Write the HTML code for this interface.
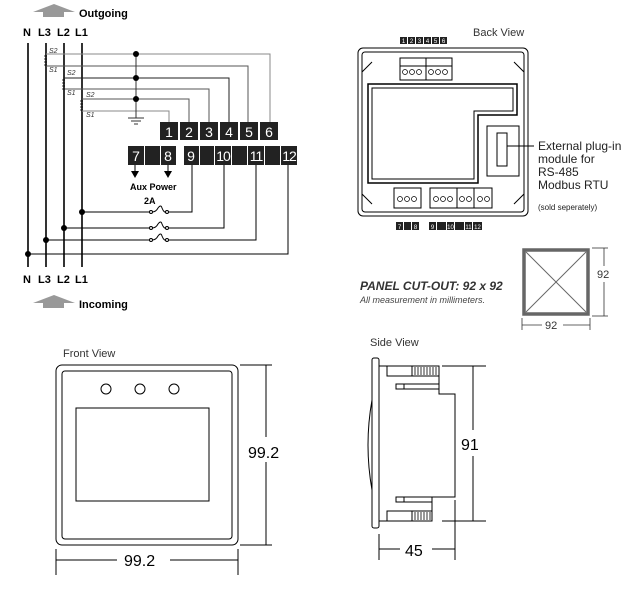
<!DOCTYPE html>
<html><head><style>
html,body{margin:0;padding:0;background:#fff;}
svg{display:block;font-family:"Liberation Sans",sans-serif;}
.b{font-weight:bold;}
</style></head><body>
<svg width="633" height="603" viewBox="0 0 633 603" xmlns="http://www.w3.org/2000/svg">
<!-- Outgoing -->
<polygon points="33,12 54,4 75,12" fill="#999"/><rect x="43" y="12" width="21" height="5" fill="#999"/>
<text x="79" y="17" font-size="11" class="b">Outgoing</text>
<g font-size="11" class="b">
<text x="23" y="36">N</text><text x="38" y="36">L3</text><text x="57" y="36">L2</text><text x="75" y="36">L1</text>
<text x="23" y="283">N</text><text x="38" y="283">L3</text><text x="57" y="283">L2</text><text x="75" y="283">L1</text>
</g>
<polygon points="33,303 54,295 75,303" fill="#999"/><rect x="43" y="303" width="21" height="5" fill="#999"/>
<text x="79" y="308" font-size="11" class="b">Incoming</text>
<!-- verticals -->
<g stroke="#000" stroke-width="1.6">
<line x1="28" y1="43" x2="28" y2="267"/><line x1="46" y1="43" x2="46" y2="267"/>
<line x1="64" y1="43" x2="64" y2="267"/><line x1="82" y1="43" x2="82" y2="267"/>
</g>
<!-- CT wires -->
<g fill="none" stroke-width="1">
<polyline points="46,54 270,54 270,122" stroke="#888"/>
<polyline points="46,66 248,66 248,122" stroke="#555"/>
<polyline points="64,78 229,78 229,122" stroke="#222"/>
<polyline points="64,89 209,89 209,122" stroke="#555"/>
<polyline points="82,99 189,99 189,122" stroke="#555"/>
<polyline points="82,111 169,111 169,122" stroke="#888"/>
<line x1="136" y1="54" x2="136" y2="118" stroke="#333"/>
<line x1="128" y1="118" x2="144" y2="118" stroke="#333"/><line x1="131" y1="121" x2="141" y2="121" stroke="#333"/><line x1="134" y1="124" x2="138" y2="124" stroke="#333"/>
</g>
<g fill="#000"><circle cx="136" cy="54" r="3"/><circle cx="136" cy="78" r="3"/><circle cx="136" cy="99" r="3"/></g>
<!-- coils -->
<g fill="none" stroke="#000" stroke-width="0.8">
<path d="M44,56 h3 M44,59 h3 M44,62 h3 M44,65 h3"/>
<path d="M62,80 h3 M62,83 h3 M62,86 h3 M62,89 h3"/>
<path d="M80,101 h3 M80,104 h3 M80,107 h3 M80,110 h3"/>
</g>
<g font-size="7" font-style="italic" fill="#333">
<text x="49" y="53">S2</text><text x="49" y="72">S1</text>
<text x="67" y="75">S2</text><text x="67" y="95">S1</text>
<text x="86" y="97">S2</text><text x="86" y="117">S1</text>
</g>
<!-- terminals -->
<g fill="#222"><rect x="160" y="122" width="18" height="18"/><rect x="180" y="122" width="18" height="18"/><rect x="200" y="122" width="18" height="18"/><rect x="220" y="122" width="18" height="18"/><rect x="240" y="122" width="18" height="18"/><rect x="260" y="122" width="18" height="18"/>
<rect x="128" y="146" width="16" height="19"/><rect x="145" y="146" width="15" height="19"/><rect x="161" y="146" width="15" height="19"/>
<rect x="184" y="146" width="15" height="19"/><rect x="200" y="146" width="14" height="19"/><rect x="215" y="146" width="16" height="19"/><rect x="232" y="146" width="15" height="19"/><rect x="248" y="146" width="16" height="19"/><rect x="265" y="146" width="15" height="19"/><rect x="281" y="146" width="16" height="19"/></g>
<g fill="#fff" font-size="14" text-anchor="middle">
<text x="169" y="137">1</text><text x="189" y="137">2</text><text x="209" y="137">3</text><text x="229" y="137">4</text><text x="249" y="137">5</text><text x="269" y="137">6</text>
<text x="136" y="161">7</text><text x="168" y="161">8</text><text x="191" y="161">9</text><text x="223" y="161" letter-spacing="-1">10</text><text x="256" y="161" letter-spacing="-1">11</text><text x="289" y="161" letter-spacing="-1">12</text>
</g>
<g stroke="#000" stroke-width="1"><line x1="135" y1="165" x2="135" y2="172"/><line x1="168" y1="165" x2="168" y2="172"/></g>
<polygon points="131,171 139,171 135,178" fill="#000"/><polygon points="164,171 172,171 168,178" fill="#000"/>
<text x="130" y="190" font-size="9" class="b">Aux Power</text>
<text x="144" y="204" font-size="9" class="b">2A</text>
<!-- fuses -->
<g fill="none" stroke="#000" stroke-width="1">
<polyline points="82,212 150,212"/><path d="M152,212 q4,0 6,-4 q3,-4 4,0 q2,5 4,4"/><polyline points="168,212 192,212 192,165"/>
<polyline points="64,228 150,228"/><path d="M152,228 q4,0 6,-4 q3,-4 4,0 q2,5 4,4"/><polyline points="168,228 224,228 224,165"/>
<polyline points="46,240 150,240"/><path d="M152,240 q4,0 6,-4 q3,-4 4,0 q2,5 4,4"/><polyline points="168,240 256,240 256,165"/>
<polyline points="28,254 288,254 288,165"/>
<circle cx="151" cy="212" r="1.5"/><circle cx="167" cy="212" r="1.5"/>
<circle cx="151" cy="228" r="1.5"/><circle cx="167" cy="228" r="1.5"/>
<circle cx="151" cy="240" r="1.5"/><circle cx="167" cy="240" r="1.5"/>
</g>
<g fill="#000"><circle cx="82" cy="212" r="3"/><circle cx="64" cy="228" r="3"/><circle cx="46" cy="240" r="3"/><circle cx="28" cy="254" r="3"/></g>

<!-- Back view -->
<text x="473" y="36" font-size="11" fill="#333">Back View</text>
<g fill="#222"><rect x="400" y="37" width="7" height="7"/><rect x="408" y="37" width="7" height="7"/><rect x="416" y="37" width="7" height="7"/><rect x="424" y="37" width="7" height="7"/><rect x="432" y="37" width="7" height="7"/><rect x="440" y="37" width="7" height="7"/></g>
<g fill="#fff" font-size="6" text-anchor="middle"><text x="403.5" y="43">1</text><text x="411.5" y="43">2</text><text x="419.5" y="43">3</text><text x="427.5" y="43">4</text><text x="435.5" y="43">5</text><text x="443.5" y="43">6</text></g>
<g fill="none" stroke="#000" stroke-width="1">
<rect x="358" y="48" width="170" height="168" rx="5"/>
<rect x="362" y="52" width="162" height="160" rx="3"/>
<polygon points="368,84 517,84 517,115 478,115 478,183 368,183" stroke-width="1.5"/>
<polygon points="372,88 513,88 513,111 474,111 474,179 372,179"/>
<rect x="400" y="58" width="52" height="22"/>
<line x1="400" y1="66" x2="452" y2="66"/><line x1="426" y1="58" x2="426" y2="80"/>
<rect x="487" y="126" width="32" height="50"/>
<rect x="497" y="133" width="10" height="33"/>
<line x1="507" y1="146" x2="534" y2="146"/>
<rect x="394" y="188" width="27" height="20"/><rect x="430" y="188" width="27" height="20"/><rect x="457" y="188" width="17" height="20"/><rect x="474" y="188" width="18" height="20"/>
<path d="M362,72 l10,-10 M524,72 l-10,-10 M362,194 l10,10 M524,194 l-10,10"/>
</g>
<g fill="none" stroke="#000" stroke-width="0.7">
<circle cx="405" cy="72" r="2.5"/><circle cx="412" cy="72" r="2.5"/><circle cx="419" cy="72" r="2.5"/><circle cx="431" cy="72" r="2.5"/><circle cx="438" cy="72" r="2.5"/><circle cx="445" cy="72" r="2.5"/>
<circle cx="400" cy="199" r="2.5"/><circle cx="407" cy="199" r="2.5"/><circle cx="414" cy="199" r="2.5"/>
<circle cx="436" cy="199" r="2.5"/><circle cx="443" cy="199" r="2.5"/><circle cx="450" cy="199" r="2.5"/>
<circle cx="462" cy="199" r="2.5"/><circle cx="469" cy="199" r="2.5"/><circle cx="480" cy="199" r="2.5"/><circle cx="487" cy="199" r="2.5"/>
</g>
<g fill="#222"><rect x="396" y="222" width="7" height="8"/><rect x="404" y="222" width="7" height="8"/><rect x="412" y="222" width="7" height="8"/><rect x="429" y="222" width="7" height="8"/><rect x="437" y="222" width="9" height="8"/><rect x="447" y="222" width="7" height="8"/><rect x="455" y="222" width="9" height="8"/><rect x="465" y="222" width="7" height="8"/><rect x="473" y="222" width="9" height="8"/></g>
<g fill="#fff" font-size="6" text-anchor="middle"><text x="399.5" y="229">7</text><text x="415.5" y="229">8</text><text x="432.5" y="229">9</text><text x="450.5" y="229">10</text><text x="468.5" y="229">11</text><text x="477.5" y="229">12</text></g>
<g font-size="12" fill="#222"><text x="538" y="150">External plug-in</text><text x="538" y="163">module for</text><text x="538" y="176">RS-485</text><text x="538" y="189">Modbus RTU</text></g>
<text x="538" y="210" font-size="8" fill="#222">(sold seperately)</text>

<!-- cutout -->
<text x="360" y="290" font-size="12" font-weight="bold" font-style="italic" fill="#333">PANEL CUT-OUT: 92 x 92</text>
<text x="360" y="303" font-size="9" font-style="italic" fill="#444">All measurement in millimeters.</text>
<rect x="524" y="250" width="64" height="64" fill="none" stroke="#666" stroke-width="3.5"/>
<g stroke="#666" stroke-width="1"><line x1="526" y1="252" x2="586" y2="312"/><line x1="586" y1="252" x2="526" y2="312"/></g>
<g stroke="#333" stroke-width="0.8" fill="none">
<line x1="592" y1="248" x2="608" y2="248"/><line x1="592" y1="316" x2="608" y2="316"/><line x1="604" y1="248" x2="604" y2="266"/><line x1="604" y1="282" x2="604" y2="316"/>
<line x1="522" y1="318" x2="522" y2="330"/><line x1="590" y1="318" x2="590" y2="330"/><line x1="522" y1="325" x2="542" y2="325"/><line x1="563" y1="325" x2="590" y2="325"/>
</g>
<text x="597" y="278" font-size="11" fill="#333">92</text>
<text x="545" y="329" font-size="11" fill="#333">92</text>

<!-- front view -->
<text x="63" y="357" font-size="11" fill="#333">Front View</text>
<g fill="none" stroke="#000" stroke-width="1">
<rect x="56" y="365" width="182" height="180" rx="6"/>
<rect x="62" y="371" width="170" height="168" rx="3"/>
<circle cx="106" cy="389" r="5"/><circle cx="140" cy="389" r="5"/><circle cx="174" cy="389" r="5"/>
<rect x="76" y="408" width="133" height="93"/>
<line x1="240" y1="365" x2="272" y2="365"/><line x1="240" y1="545" x2="272" y2="545"/>
<line x1="266" y1="365" x2="266" y2="437"/><line x1="266" y1="462" x2="266" y2="545"/>
<line x1="56" y1="549" x2="56" y2="575"/><line x1="238" y1="549" x2="238" y2="575"/>
<line x1="56" y1="560" x2="117" y2="560"/><line x1="170" y1="560" x2="238" y2="560"/>
</g>
<text x="248" y="458" font-size="16">99.2</text>
<text x="124" y="566" font-size="16">99.2</text>

<!-- side view -->
<text x="370" y="346" font-size="11" fill="#333">Side View</text>
<g fill="none" stroke="#000" stroke-width="1">
<rect x="372" y="358" width="7" height="170" rx="2"/>
<path d="M372,400 q-8,45 0,90"/>
<polyline points="379,366 439,366 439,394 455,394 455,497 432,497 432,521 379,521"/>
<rect x="387" y="366" width="25" height="10"/><rect x="412" y="366" width="27" height="10"/>
<rect x="396" y="384" width="8" height="5"/><rect x="404" y="384" width="35" height="5"/>
<rect x="396" y="497" width="8" height="5"/><rect x="404" y="497" width="28" height="5"/>
<rect x="387" y="511" width="25" height="10"/><rect x="412" y="511" width="20" height="10"/>
<line x1="442" y1="366" x2="486" y2="366"/><line x1="442" y1="521" x2="486" y2="521"/>
<line x1="473" y1="366" x2="473" y2="430"/><line x1="473" y1="456" x2="473" y2="521"/>
<line x1="379" y1="534" x2="379" y2="560"/><line x1="455" y1="500" x2="455" y2="560"/>
<line x1="379" y1="549" x2="400" y2="549"/><line x1="432" y1="549" x2="455" y2="549"/>
</g>
<g stroke="#000" stroke-width="0.8">
<path d="M415,367 v8 M418,367 v8 M421,367 v8 M424,367 v8 M427,367 v8 M430,367 v8 M433,367 v8 M436,367 v8"/>
<path d="M415,512 v8 M418,512 v8 M421,512 v8 M424,512 v8 M427,512 v8 M430,512 v8"/>
</g>
<text x="461" y="450" font-size="16">91</text>
<text x="405" y="556" font-size="16">45</text>
</svg>
</body></html>
